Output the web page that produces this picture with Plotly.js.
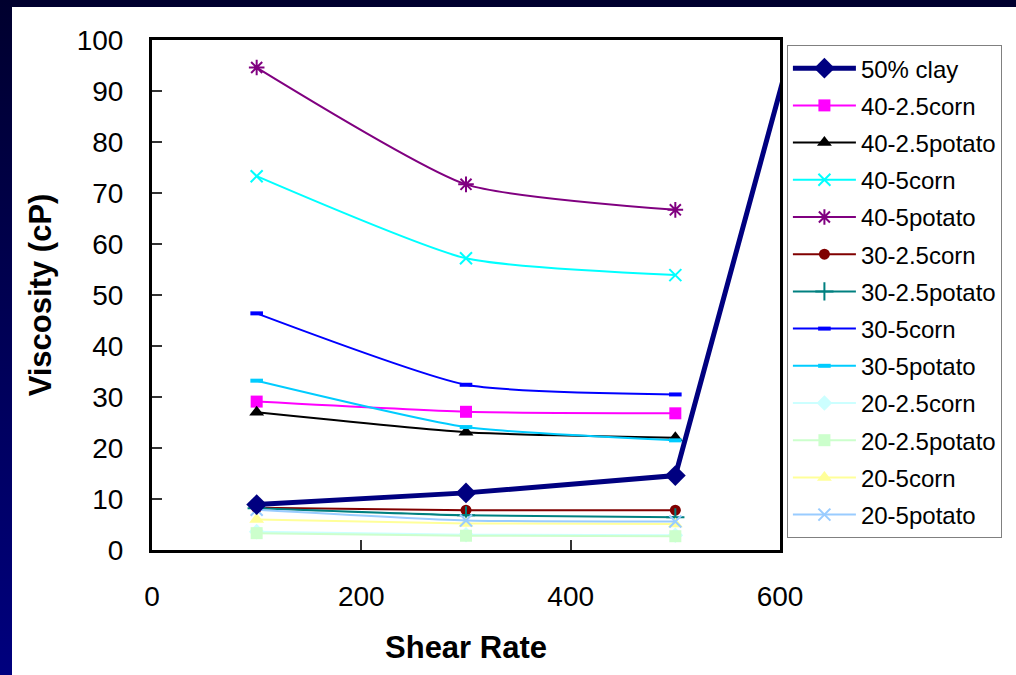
<!DOCTYPE html>
<html><head><meta charset="utf-8">
<script src="https://cdn.plot.ly/plotly-3.0.1.min.js"></script>
<style>
html,body{margin:0;padding:0;width:1016px;height:675px;overflow:hidden;background:linear-gradient(to bottom,#00002e,#00007e);}
#chart{position:absolute;left:12px;top:7px;width:1004px;height:668px;background:#fff;}
</style></head><body><div id="chart"></div>
<script>
// ---- data ----
const seriesNames = ["50% clay","40-2.5corn","40-2.5potato","40-5corn","40-5potato","30-2.5corn","30-2.5potato","30-5corn","30-5potato","20-2.5corn","20-2.5potato","20-5corn","20-5potato"];
const shearRate = [100, 300, 500];
const clayShear = [100, 300, 500, 610];
const clay = [8.9, 11.2, 14.6, 97.5];
const corn40_25 = [29.1, 27.1, 26.8];
const potato40_25 = [27.0, 23.1, 22.0];
const corn40_5 = [73.3, 57.2, 53.9];
const potato40_5 = [94.6, 71.7, 66.7];
const corn30_25 = [8.3, 7.8, 7.8];
const potato30_25 = [8.2, 6.8, 6.4];
const corn30_5 = [46.4, 32.4, 30.5];
const potato30_5 = [33.2, 24.1, 21.5];
const corn20_25 = [3.6, 3.0, 2.9];
const potato20_25 = [3.3, 2.8, 2.7];
const corn20_5 = [6.0, 5.2, 5.1];
const potato20_5 = [7.9, 5.8, 5.6];
const xTicks = [0, 200, 400, 600];

// ---- styles ----
const styles = [
  {c:"#000080", sym:"diamond", size:16, w:5, shape:"linear"},
  {c:"#FF00FF", sym:"square", size:12, w:2, shape:"spline"},
  {c:"#000000", sym:"triangle-up", size:13, w:2, shape:"spline"},
  {c:"#00FFFF", sym:"x-thin-open", size:12, w:2, shape:"spline", lw:2},
  {c:"#800080", sym:"asterisk-open", size:13, w:2, shape:"spline", lw:2},
  {c:"#800000", sym:"circle", size:11, w:2, shape:"spline"},
  {c:"#008080", sym:"cross-thin-open", size:13, w:2, shape:"spline", lw:2},
  {c:"#0000FF", sym:"line-ew-open", size:9, w:2, shape:"spline", lw:4},
  {c:"#00CCFF", sym:"line-ew-open", size:9, w:2, shape:"spline", lw:4},
  {c:"#CCFFFF", sym:"diamond", size:12, w:2, shape:"spline"},
  {c:"#CCFFCC", sym:"square", size:12, w:2, shape:"spline"},
  {c:"#FFFF99", sym:"triangle-up", size:13, w:2, shape:"spline"},
  {c:"#99CCFF", sym:"x-thin-open", size:12, w:2, shape:"spline", lw:2}
];
const ys = [clay, corn40_25, potato40_25, corn40_5, potato40_5, corn30_25, potato30_25, corn30_5, potato30_5, corn20_25, potato20_25, corn20_5, potato20_5];

const traces = ys.map((y, i) => {
  const s = styles[i];
  const m = {symbol: s.sym, size: s.size, color: s.c};
  if (s.lw) m.line = {color: s.c, width: s.lw};
  return {
    type: "scatter", mode: "lines+markers",
    x: i === 0 ? clayShear : shearRate, y: y,
    name: seriesNames[i], legendgroup: "g" + i, legendrank: i + 1,
    line: {color: s.c, width: s.w, shape: s.shape, smoothing: 0.55},
    marker: m, cliponaxis: i !== 0
  };
});
// draw clay on top
const ordered = traces.slice(1).concat([traces[0]]);

const font = "Arial, 'Liberation Sans', sans-serif";
const layout = {
  width: 1004, height: 668,
  margin: {l: 140, r: 236, t: 33, b: 125},
  paper_bgcolor: "#ffffff", plot_bgcolor: "#ffffff",
  font: {family: font, color: "#000", size: 28},
  showlegend: true,
  legend: {
    x: 1.011, y: 0.99, xanchor: "left", yanchor: "top",
    bgcolor: "#ffffff", bordercolor: "#808080", borderwidth: 1,
    font: {family: font, size: 24, color: "#000"},
    traceorder: "grouped", tracegroupgap: 3, itemwidth: 63
  },
  xaxis: {
    range: [0, 600], tickvals: xTicks, ticks: "inside", ticklen: 10, tickcolor: "#333", tickwidth: 1.5,
    showline: true, linecolor: "#000", linewidth: 3, mirror: true, showgrid: false, zeroline: false,
    ticklabelstandoff: 19,
    title: {text: "<b>Shear Rate</b>", font: {size: 31}, standoff: 26}
  },
  yaxis: {
    range: [0, 100], dtick: 10, ticks: "inside", ticklen: 10, tickcolor: "#333", tickwidth: 1.5,
    showline: true, linecolor: "#000", linewidth: 3, mirror: true, showgrid: false, zeroline: false,
    ticklabelstandoff: 20,
    title: {text: "<b>Viscosity (cP)</b>", font: {size: 31}, standoff: 16}
  }
};
Plotly.newPlot("chart", ordered, layout, {displayModeBar: false});
</script></body></html>
